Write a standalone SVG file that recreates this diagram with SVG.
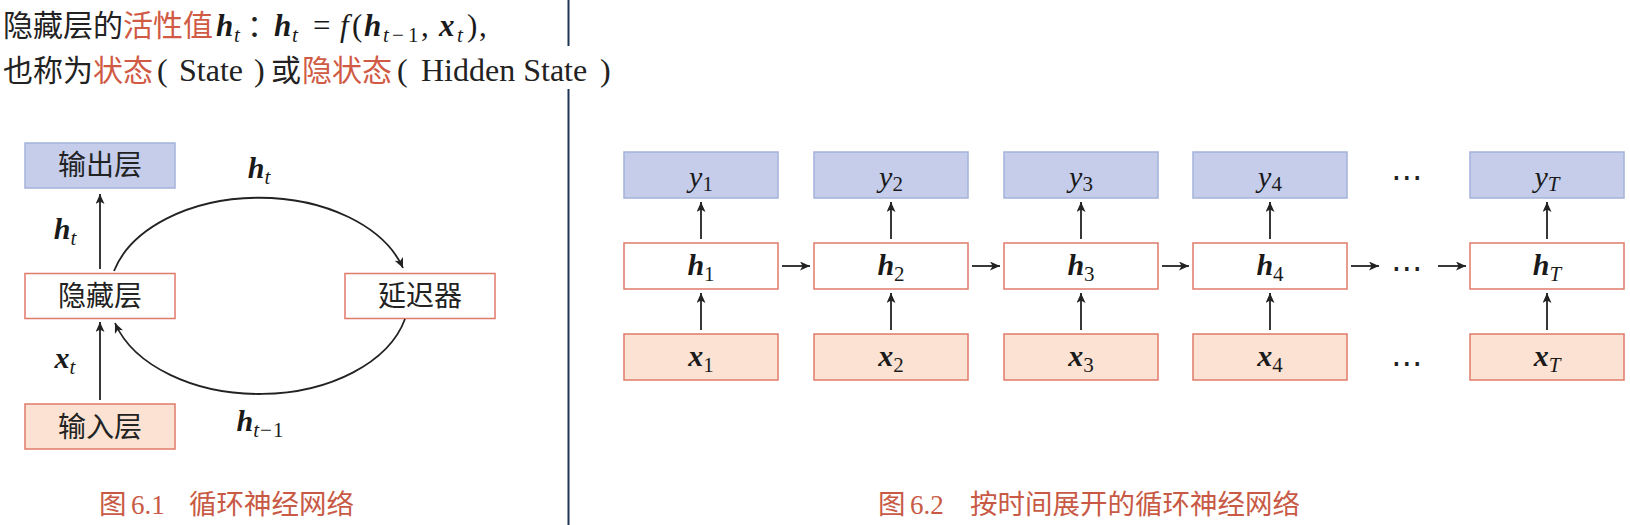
<svg xmlns="http://www.w3.org/2000/svg" width="1630" height="525" viewBox="0 0 1630 525">
<style>
.cn{font-family:"Noto Sans CJK SC","Noto Sans",sans-serif;font-size:30px;fill:#222}
.red{fill:#d05a44}
.lat{font-family:"Liberation Serif",serif;font-size:32px;fill:#222}
.hm{font-family:"Liberation Serif",serif;font-size:31px;fill:#1a1a1a}
.m{font-family:"Liberation Serif",serif;font-size:30px;fill:#1a1a1a;text-anchor:middle}
.bi{font-weight:bold;font-style:italic}
.it{font-style:italic}
.sub{font-size:21px}
.cap{font-family:"Noto Sans CJK SC",sans-serif;font-size:27.5px;fill:#c85a45}
.capn{font-family:"Liberation Serif",serif;font-size:27px;fill:#c85a45}
.bl{fill:#c5cdea;stroke:#a3b3da;stroke-width:1.5}
.hr{fill:#ffffff;stroke:#e07b6b;stroke-width:1.5}
.pk{fill:#fbe2d2;stroke:#e07b6b;stroke-width:1.5}
.lbl{font-family:"Noto Sans CJK SC",sans-serif;font-size:28px;fill:#222;text-anchor:middle}
.ar{fill:none;stroke:#222;stroke-width:1.8}
.dots{font-family:"DejaVu Sans",sans-serif;font-size:32px;fill:#222;text-anchor:middle}
</style>
<defs>
<marker id="ah" viewBox="0 0 10 9" refX="10" refY="4.5" markerWidth="10" markerHeight="9" markerUnits="userSpaceOnUse" orient="auto">
<path d="M0,0 L10,4.5 L0,9 L2.6,4.5 z" fill="#222"/>
</marker>
</defs>

<!-- header text -->
<g id="header">
<text y="36" class="cn"><tspan x="3">隐藏层的</tspan><tspan x="123" class="red">活性值</tspan></text>
<text y="36" class="hm"><tspan x="216" class="bi">h</tspan><tspan x="234" dy="6" class="sub it">t</tspan></text>
<text x="247" y="36" class="cn">：</text>
<text y="36" class="hm"><tspan x="274" class="bi">h</tspan><tspan x="292" dy="6" class="sub it">t</tspan><tspan x="313" dy="-6">=</tspan><tspan x="340" class="it">f</tspan><tspan x="352">(</tspan><tspan x="364" class="bi">h</tspan><tspan x="383" dy="6" class="sub it">t</tspan><tspan x="392" class="sub">−</tspan><tspan x="408" class="sub">1</tspan><tspan x="421" dy="-6">,</tspan><tspan x="439" class="bi">x</tspan><tspan x="457" dy="6" class="sub it">t</tspan><tspan x="467" dy="-6">)</tspan><tspan x="479">,</tspan></text>
<text y="81" class="cn"><tspan x="3">也称为</tspan><tspan x="93" class="red">状态</tspan></text>
<text y="81" class="lat"><tspan x="157">(</tspan><tspan x="179">State</tspan><tspan x="254">)</tspan></text>
<text y="81" class="cn"><tspan x="271">或</tspan><tspan x="302" class="red">隐状态</tspan></text>
<text y="81" class="lat"><tspan x="397">(</tspan><tspan x="421">Hidden State</tspan><tspan x="600">)</tspan></text>
</g>

<!-- divider -->
<g id="divider">
<line x1="568.5" y1="0" x2="568.5" y2="46" stroke="#1f3555" stroke-width="2"/>
<line x1="568.5" y1="89" x2="568.5" y2="525" stroke="#1f3555" stroke-width="2"/>
</g>

<!-- Figure 6.1 nodes -->
<g id="output-layer"><rect class="bl" x="25" y="143" width="150" height="45"/><text class="lbl" x="100" y="175">输出层</text></g>
<g id="hidden-layer"><rect class="hr" x="25" y="273.5" width="150" height="45"/><text class="lbl" x="100" y="306">隐藏层</text></g>
<g id="input-layer"><rect class="pk" x="25" y="404" width="150" height="45"/><text class="lbl" x="100" y="437">输入层</text></g>
<g id="delay"><rect class="hr" x="345" y="273.5" width="150" height="45"/><text class="lbl" x="420" y="306">延迟器</text></g>

<!-- Figure 6.1 connectors -->
<g id="connectors-6-1">
<line class="ar" x1="100" y1="269" x2="100" y2="194" marker-end="url(#ah)"/>
<line class="ar" x1="100" y1="400" x2="100" y2="322" marker-end="url(#ah)"/>
<path class="ar" d="M114,271 A150,98 0 0 1 403,268" marker-end="url(#ah)"/>
<path class="ar" d="M405,319 A150,98 0 0 1 115,323" marker-end="url(#ah)"/>
<text class="m" x="65" y="239"><tspan class="bi">h</tspan><tspan class="sub it" dy="6">t</tspan></text>
<text class="m" x="65" y="368"><tspan class="bi">x</tspan><tspan class="sub it" dy="6">t</tspan></text>
<text class="m" x="259" y="178"><tspan class="bi">h</tspan><tspan class="sub it" dy="6">t</tspan></text>
<text class="m" x="260" y="431"><tspan class="bi">h</tspan><tspan class="sub" dy="6"><tspan class="it">t</tspan><tspan dx="1">−</tspan><tspan dx="1">1</tspan></tspan></text>
</g>

<!-- captions -->
<g id="caption-6-1">
<text class="cap" x="99" y="514">图</text><text class="capn" x="131" y="514">6.1</text><text class="cap" x="189" y="514">循环神经网络</text>
</g>
<g id="caption-6-2">
<text class="cap" x="878" y="514">图</text><text class="capn" x="910" y="514">6.2</text><text class="cap" x="970" y="514">按时间展开的循环神经网络</text>
</g>

<!-- Figure 6.2 nodes -->
<g id="y1"><rect class="bl" x="624" y="152" width="154" height="46"/><text class="m" x="701" y="187"><tspan class="it">y</tspan><tspan class="sub" dy="4">1</tspan></text></g>
<g id="y2"><rect class="bl" x="814" y="152" width="154" height="46"/><text class="m" x="891" y="187"><tspan class="it">y</tspan><tspan class="sub" dy="4">2</tspan></text></g>
<g id="y3"><rect class="bl" x="1004" y="152" width="154" height="46"/><text class="m" x="1081" y="187"><tspan class="it">y</tspan><tspan class="sub" dy="4">3</tspan></text></g>
<g id="y4"><rect class="bl" x="1193" y="152" width="154" height="46"/><text class="m" x="1270" y="187"><tspan class="it">y</tspan><tspan class="sub" dy="4">4</tspan></text></g>
<g id="yT"><rect class="bl" x="1470" y="152" width="154" height="46"/><text class="m" x="1547" y="187"><tspan class="it">y</tspan><tspan class="sub it" dy="4">T</tspan></text></g>

<g id="h1"><rect class="hr" x="624" y="243" width="154" height="46"/><text class="m" x="701" y="275"><tspan class="bi">h</tspan><tspan class="sub" dy="6">1</tspan></text></g>
<g id="h2"><rect class="hr" x="814" y="243" width="154" height="46"/><text class="m" x="891" y="275"><tspan class="bi">h</tspan><tspan class="sub" dy="6">2</tspan></text></g>
<g id="h3"><rect class="hr" x="1004" y="243" width="154" height="46"/><text class="m" x="1081" y="275"><tspan class="bi">h</tspan><tspan class="sub" dy="6">3</tspan></text></g>
<g id="h4"><rect class="hr" x="1193" y="243" width="154" height="46"/><text class="m" x="1270" y="275"><tspan class="bi">h</tspan><tspan class="sub" dy="6">4</tspan></text></g>
<g id="hT"><rect class="hr" x="1470" y="243" width="154" height="46"/><text class="m" x="1547" y="275"><tspan class="bi">h</tspan><tspan class="sub it" dy="6">T</tspan></text></g>

<g id="x1"><rect class="pk" x="624" y="334" width="154" height="46"/><text class="m" x="701" y="366"><tspan class="bi">x</tspan><tspan class="sub" dy="6">1</tspan></text></g>
<g id="x2"><rect class="pk" x="814" y="334" width="154" height="46"/><text class="m" x="891" y="366"><tspan class="bi">x</tspan><tspan class="sub" dy="6">2</tspan></text></g>
<g id="x3"><rect class="pk" x="1004" y="334" width="154" height="46"/><text class="m" x="1081" y="366"><tspan class="bi">x</tspan><tspan class="sub" dy="6">3</tspan></text></g>
<g id="x4"><rect class="pk" x="1193" y="334" width="154" height="46"/><text class="m" x="1270" y="366"><tspan class="bi">x</tspan><tspan class="sub" dy="6">4</tspan></text></g>
<g id="xT"><rect class="pk" x="1470" y="334" width="154" height="46"/><text class="m" x="1547" y="366"><tspan class="bi">x</tspan><tspan class="sub it" dy="6">T</tspan></text></g>

<g id="ellipses">
<text class="dots" x="1407" y="188">⋯</text>
<text class="dots" x="1407" y="279">⋯</text>
<text class="dots" x="1407" y="374">⋯</text>
</g>

<!-- Figure 6.2 connectors -->
<g id="connectors-6-2">
<line class="ar" x1="701" y1="239" x2="701" y2="202" marker-end="url(#ah)"/>
<line class="ar" x1="891" y1="239" x2="891" y2="202" marker-end="url(#ah)"/>
<line class="ar" x1="1081" y1="239" x2="1081" y2="202" marker-end="url(#ah)"/>
<line class="ar" x1="1270" y1="239" x2="1270" y2="202" marker-end="url(#ah)"/>
<line class="ar" x1="1547" y1="239" x2="1547" y2="202" marker-end="url(#ah)"/>
<line class="ar" x1="701" y1="330" x2="701" y2="293" marker-end="url(#ah)"/>
<line class="ar" x1="891" y1="330" x2="891" y2="293" marker-end="url(#ah)"/>
<line class="ar" x1="1081" y1="330" x2="1081" y2="293" marker-end="url(#ah)"/>
<line class="ar" x1="1270" y1="330" x2="1270" y2="293" marker-end="url(#ah)"/>
<line class="ar" x1="1547" y1="330" x2="1547" y2="293" marker-end="url(#ah)"/>
<line class="ar" x1="782" y1="266" x2="810" y2="266" marker-end="url(#ah)"/>
<line class="ar" x1="972" y1="266" x2="1000" y2="266" marker-end="url(#ah)"/>
<line class="ar" x1="1162" y1="266" x2="1189" y2="266" marker-end="url(#ah)"/>
<line class="ar" x1="1351" y1="266" x2="1379" y2="266" marker-end="url(#ah)"/>
<line class="ar" x1="1438" y1="266" x2="1466" y2="266" marker-end="url(#ah)"/>
</g>
</svg>
